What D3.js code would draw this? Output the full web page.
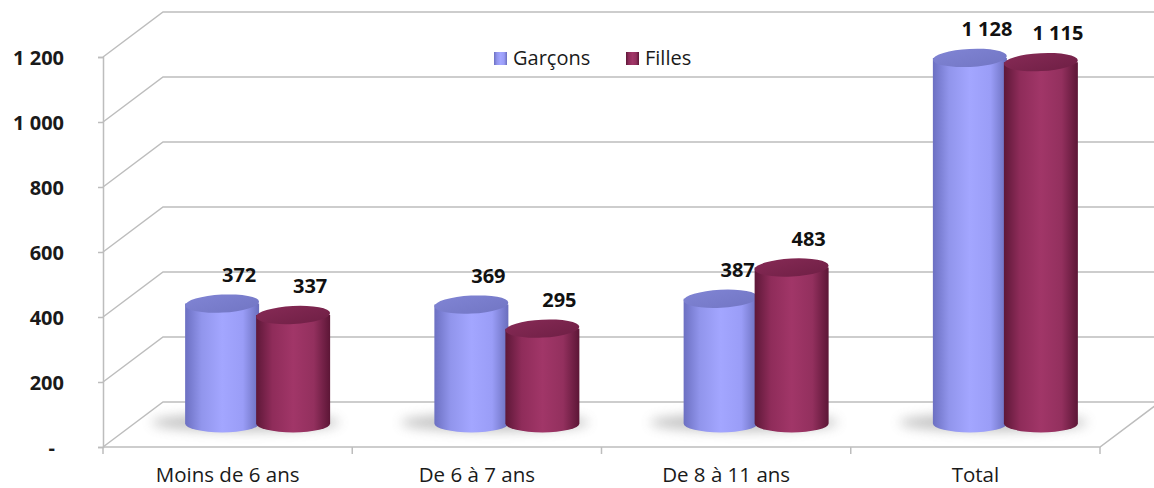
<!DOCTYPE html>
<meta charset="utf-8">
<style>
  body { margin: 0; background: #fff; }
  .grid { stroke: #bdbdbd; stroke-width: 1.5px; fill: none; }
  .ylab { font-family: "Open Sans", sans-serif; font-weight: bold; font-size: 20px; fill: #1a1a1a; }
  .xlab { font-family: "Open Sans", sans-serif; font-size: 20.5px; fill: #1a1a1a; }
  .val { font-family: "Open Sans", sans-serif; font-weight: bold; font-size: 20px; fill: #111; }
  .leg { font-family: "Open Sans", sans-serif; font-size: 20px; fill: #1a1a1a; }
</style>
<svg id="chart" width="1154" height="488"></svg>
<script src="https://cdn.jsdelivr.net/npm/d3@7"></script>
<script>
  var categories = ['Moins de 6 ans', 'De 6 à 7 ans', 'De 8 à 11 ans', 'Total'];
  var series = ['Garçons', 'Filles'];
  var garcons = [372, 369, 387, 1128];
  var filles = [337, 295, 483, 1115];
  var yTicks = [0, 200, 400, 600, 800, 1000, 1200];

  var svg = d3.select('#chart');
  var defs = svg.append('defs');

  var depthX = 60, depthY = -45;   // 3d depth of the box
  var rx = 37, ry = 9;             // cylinder ellipse radii

  var x = d3.scaleBand().domain(categories).range([103, 1100]);
  var xs = d3.scaleBand().domain(series).range([-71, 71]);
  var y = d3.scaleLinear().domain([0, 1200]).range([447, 57]);

  var fr = d3.formatLocale({ decimal: ',', thousands: ' ', grouping: [3], currency: ['', ' €'] });
  var fmt = function(v) { return v === 0 ? '-' : fr.format(',')(v); };

  // gradients
  var colors = {
    'Garçons': { body: ['#6c70c2', '#9195ec', '#a3a6ff', '#9a9df7', '#6a6ebd'], top: ['#8084d4', '#7276c4'] },
    'Filles': { body: ['#5e1838', '#8f2c5a', '#a13668', '#93305e', '#5c1636'], top: ['#862a55', '#6f1f45'] }
  };
  series.forEach(function(s, i) {
    var g = defs.append('linearGradient').attr('id', 'body' + i).attr('x1', 0).attr('x2', 1).attr('y1', 0).attr('y2', 0);
    [0, 0.22, 0.5, 0.78, 1].forEach(function(o, k) {
      g.append('stop').attr('offset', o).attr('stop-color', colors[s].body[k]);
    });
    var t = defs.append('linearGradient').attr('id', 'top' + i).attr('x1', 0).attr('x2', 1).attr('y1', 0).attr('y2', 1);
    t.append('stop').attr('offset', 0).attr('stop-color', colors[s].top[0]);
    t.append('stop').attr('offset', 1).attr('stop-color', colors[s].top[1]);
  });
  defs.append('filter').attr('id', 'blur').attr('x', '-50%').attr('y', '-100%').attr('width', '200%').attr('height', '300%')
    .append('feGaussianBlur').attr('stdDeviation', 6);

  // walls and grid
  var grid = svg.append('g');
  yTicks.forEach(function(t) {
    grid.append('path').attr('class', 'grid')
      .attr('d', 'M103,' + y(t) + 'L' + (103 + depthX) + ',' + (y(t) + depthY) + 'H' + (1100 + depthX));
  });
  grid.append('path').attr('class', 'grid')
    .attr('d', 'M103,' + y(0) + 'H1100L' + (1100 + depthX) + ',' + (y(0) + depthY));

  // y axis
  var yAxis = d3.axisLeft(y).tickValues(yTicks).tickFormat(fmt).tickSize(5).tickPadding(34);
  var ay = svg.append('g').attr('transform', 'translate(103,0)').call(yAxis);
  ay.select('.domain').attr('stroke', '#bdbdbd').attr('stroke-width', 1.5);
  ay.selectAll('.tick line').attr('stroke', '#bdbdbd').attr('stroke-width', 1.5);
  ay.selectAll('.tick text').attr('class', 'ylab').attr('dy', '0.36em')
    .attr('dx', function(d) { return d === 0 ? -9 : 0; });

  // x axis labels and boundary ticks
  var xAxis = d3.axisBottom(x).tickSize(0).tickPadding(20);
  var ax = svg.append('g').attr('transform', 'translate(0,' + y(0) + ')').call(xAxis);
  ax.select('.domain').remove();
  ax.selectAll('.tick text').attr('class', 'xlab');
  var bounds = categories.map(function(c) { return x(c); }).concat([x.range()[1]]);
  svg.append('g').selectAll('line').data(bounds).join('line')
    .attr('class', 'grid').attr('x1', function(d) { return d; }).attr('x2', function(d) { return d; })
    .attr('y1', y(0)).attr('y2', y(0) + 7);

  // cylinders
  var rows = [];
  categories.forEach(function(c, i) {
    rows.push({ cat: c, s: 0, v: garcons[i] });
    rows.push({ cat: c, s: 1, v: filles[i] });
  });
  function cx(d) { return x(d.cat) + x.bandwidth() / 2 + depthX / 2 + xs(series[d.s]) + xs.bandwidth() / 2; }
  var base = y(0) + depthY / 2;
  function topY(d) { return y(d.v) + depthY / 2; }

  // shadows on the floor
  svg.append('g').selectAll('ellipse').data(categories).join('ellipse')
    .attr('cx', function(c) { return x(c) + x.bandwidth() / 2 + depthX / 2 - 12; })
    .attr('cy', base - 2)
    .attr('rx', 94).attr('ry', 9)
    .attr('fill', '#7a7a7a').attr('opacity', 0.45).attr('filter', 'url(#blur)');

  var cyl = svg.append('g').selectAll('g').data(rows).join('g');
  cyl.append('path')
    .attr('fill', function(d) { return 'url(#body' + d.s + ')'; })
    .attr('d', function(d) {
      var l = cx(d) - rx, r = cx(d) + rx;
      return 'M' + l + ',' + topY(d) + 'L' + l + ',' + (base - 1) +
        'A' + rx + ',' + ry + ' 0 0 0 ' + r + ',' + (base - 1) + 'L' + r + ',' + topY(d) + 'Z';
    });
  cyl.append('ellipse')
    .attr('cx', cx).attr('cy', topY).attr('rx', rx).attr('ry', ry)
    .attr('transform', function(d) { return 'rotate(-3,' + cx(d) + ',' + topY(d) + ')'; })
    .attr('fill', function(d) { return 'url(#top' + d.s + ')'; });

  // value labels
  svg.append('g').selectAll('text').data(rows).join('text')
    .attr('class', 'val').attr('text-anchor', 'middle')
    .attr('x', function(d) { return cx(d) + 17; })
    .attr('y', function(d) { return topY(d) - ry - 13; })
    .text(function(d) { return fmt(d.v); });

  // legend
  var leg = svg.append('g').attr('transform', 'translate(494,52)');
  var li = leg.selectAll('g').data(series).join('g')
    .attr('transform', function(d, i) { return 'translate(' + (i * 132) + ',0)'; });
  li.append('rect').attr('width', 13).attr('height', 13)
    .attr('fill', function(d, i) { return 'url(#body' + i + ')'; });
  li.append('text').attr('class', 'leg').attr('x', 19).attr('y', 13).text(function(d) { return d; });
</script>
